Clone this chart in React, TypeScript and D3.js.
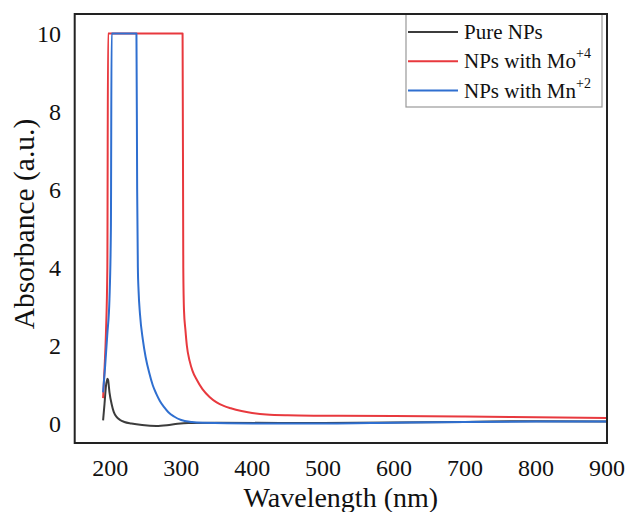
import React from "react";
import * as d3 from "d3";

const pureNPs: [number, number][] = [
  [190, 0.08], [192, 0.5], [194, 0.95], [196, 1.15], [197, 1.12], [199, 0.8], [202, 0.5],
  [205, 0.3], [209, 0.17], [214, 0.09], [220, 0.04], [230, 0.0], [245, -0.04], [265, -0.065],
  [280, -0.045], [295, -0.005], [310, 0.015], [350, 0.02], [500, 0.01], [700, 0.04], [800, 0.06], [900, 0.05],
];

const moNPs: [number, number][] = [
  [190, 0.65], [192, 1.4], [194, 2.3], [196, 4], [197, 10], [302, 10], [303, 4], [304, 2.9],
  [306, 2.4], [308, 2.0], [312, 1.6], [316, 1.35], [322, 1.12], [330, 0.88], [340, 0.68],
  [350, 0.54], [360, 0.45], [370, 0.39], [385, 0.32], [400, 0.27], [420, 0.23], [450, 0.21],
  [500, 0.2], [600, 0.19], [700, 0.18], [800, 0.16], [900, 0.14],
];

const mnNPs: [number, number][] = [
  [190, 0.8], [193, 1.5], [196, 2.3], [199, 3.2], [201, 5], [202, 10], [237, 10], [238, 6],
  [239, 4], [240, 3.4], [242, 2.8], [246, 2.15], [250, 1.7], [255, 1.3], [260, 0.98], [265, 0.76],
  [270, 0.58], [276, 0.42], [282, 0.29], [290, 0.18], [300, 0.09], [315, 0.04], [330, 0.02],
  [400, 0.0], [500, 0.0], [600, 0.02], [700, 0.04], [800, 0.05], [900, 0.05],
];

const xTicks = [200, 300, 400, 500, 600, 700, 800, 900];
const yTicks = [0, 2, 4, 6, 8, 10];

const series = [
  { name: "Pure NPs", sup: "", data: pureNPs, color: "#3c3c3c" },
  { name: "NPs with Mo", sup: "+4", data: moNPs, color: "#e8393e" },
  { name: "NPs with Mn", sup: "+2", data: mnNPs, color: "#2f6fd0" },
];

const W = 627, H = 512;
const L = 74.7, R = 607, T = 14, B = 443;
const FONT = "'Liberation Serif', 'Times New Roman', Times, 'DejaVu Serif', serif";

export default function App() {
  const x = d3.scaleLinear().domain([150, 900]).range([L, R]);
  const y = d3.scaleLinear().domain([-0.5, 10.5]).range([B, T]);
  const line = d3
    .line<[number, number]>()
    .x((d) => x(d[0]))
    .y((d) => y(d[1]))
    .curve(d3.curveMonotoneX);
  const ts = { fontFamily: FONT };

  return (
    <svg
      width={W}
      height={H}
      style={{ position: "absolute", left: 0, top: 0, background: "#fff", fontFamily: FONT }}
    >
      <rect x={0} y={0} width={W} height={H} fill="#fff" />
      {series.map((s) => (
        <path key={s.name} d={line(s.data) || ""} fill="none" stroke={s.color} strokeWidth={2} strokeLinejoin="round" />
      ))}
      {xTicks.map((t) => (
        <text key={t} x={x(t)} y={476} textAnchor="middle" fontSize={24} fill="#111" style={ts}>
          {t}
        </text>
      ))}
      {yTicks.map((t) => (
        <text key={t} x={61} y={y(t) + 8} textAnchor="end" fontSize={24} fill="#111" style={ts}>
          {t}
        </text>
      ))}
      <text x={(L + R) / 2} y={507} textAnchor="middle" fontSize={28} fill="#111" style={ts}>
        Wavelength (nm)
      </text>
      <text
        transform={`translate(34, 224) rotate(-90)`}
        textAnchor="middle"
        fontSize={29.5}
        fill="#111"
        style={ts}
      >
        Absorbance (a.u.)
      </text>
      <rect x={406} y={T} width={196} height={93} fill="#fff" stroke="#999" strokeWidth={1.2} />
      {series.map((s, i) => {
        const ry = 32 + i * 29.3;
        return (
          <g key={s.name}>
            <line x1={408} x2={458} y1={ry} y2={ry} stroke={s.color} strokeWidth={2} />
            <text x={464} y={ry + 7} fontSize={21} fill="#111" style={ts}>
              {s.name}
              {s.sup && (
                <tspan fontSize={14} dy={-10}>
                  {s.sup}
                </tspan>
              )}
            </text>
          </g>
        );
      })}
      <rect x={L} y={T} width={R - L} height={B - T} fill="none" stroke="#222" strokeWidth={2} />
    </svg>
  );
}
